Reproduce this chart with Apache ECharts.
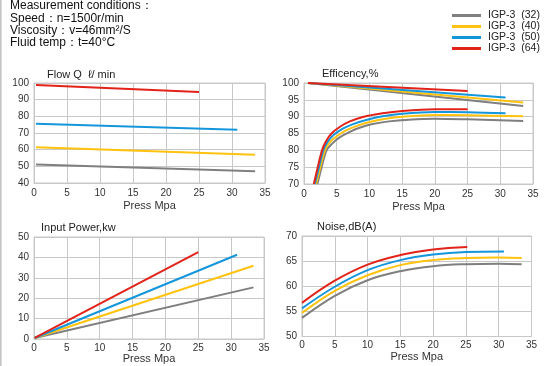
<!DOCTYPE html>
<html>
<head>
<meta charset="utf-8">
<script src="https://cdn.jsdelivr.net/npm/echarts@6/dist/echarts.min.js"></script>
<style>html,body{margin:0;padding:0;background:#fff;}#c{width:550px;height:366px;}</style>
</head>
<body>
<div id="c"></div>
<script>
// ---- data ----
var seriesNames = ['IGP-3  (32)', 'IGP-3  (40)', 'IGP-3  (50)', 'IGP-3  (64)'];
var seriesColors = ['#7f7f7f', '#ffc20e', '#1496dc', '#e2231a'];
var headerLines = ['Measurement conditions：', 'Speed：n=1500r/min', 'Viscosity：v=46mm²/S', 'Fluid temp：t=40°C'];
var chartTitles = ['Flow Q  ℓ/ min', 'Efficency,%', 'Input Power,kw', 'Noise,dB(A)'];
var xName = 'Press Mpa';

// Flow Q (l/min) vs pressure
var flow32 = [[0.3, 51.1], [33.5, 47.0]];
var flow40 = [[0.3, 61.4], [33.5, 56.9]];
var flow50 = [[0.3, 75.6], [30.8, 72.0]];
var flow64 = [[0.3, 98.8], [25, 94.6]];

// Volumetric efficiency (upper lines)
var volEff32 = [[0.6, 100], [33.5, 93.2]];
var volEff40 = [[0.6, 100], [33.5, 94.2]];
var volEff50 = [[0.6, 100], [30.8, 95.7]];
var volEff64 = [[0.6, 100], [25, 97.6]];

// Total efficiency (lower curves)
var totEff32 = [[2.05, 70], [2.7, 75], [3.45, 80], [4.3, 82], [5.5, 83.9], [7, 85.5], [8.5, 86.7], [10.5, 87.8], [13, 88.6], [16, 89.1], [20, 89.4], [25, 89.2], [33.5, 88.7]];
var totEff40 = [[1.85, 70], [2.5, 75], [3.2, 80], [3.9, 82.3], [5, 84.2], [6.5, 86], [8, 87.2], [10, 88.4], [12.5, 89.4], [15, 90.0], [20, 90.5], [25, 90.4], [33.5, 90.1]];
var totEff50 = [[1.65, 70], [2.3, 75], [2.95, 80], [3.6, 82.5], [4.6, 84.7], [6, 86.5], [7.5, 87.8], [9.5, 89], [12, 90.1], [15, 90.9], [20, 91.4], [25, 91.3], [30.8, 91.0]];
var totEff64 = [[1.5, 70], [2.1, 75], [2.75, 80], [3.3, 82.5], [4.2, 85], [5.5, 87], [7, 88.6], [9, 89.9], [12, 91], [15, 91.7], [20, 92.2], [25, 92.2]];

// Input power (kw)
var power32 = [[0.1, 0.5], [33.4, 25.3]];
var power40 = [[0.1, 0.5], [33.4, 35.9]];
var power50 = [[0.1, 0.5], [30.9, 41.3]];
var power64 = [[0.1, 0.5], [25, 42.6]];

// Noise dB(A)
var noise32 = [[0, 53.7], [5, 58.1], [10, 61.2], [15, 63.0], [20, 64.0], [25, 64.4], [30, 64.5], [33.5, 64.4]];
var noise40 = [[0, 54.7], [5, 59.1], [10, 62.2], [15, 64.2], [20, 65.2], [25, 65.6], [30, 65.7], [33.5, 65.6]];
var noise50 = [[0, 55.6], [5, 59.9], [10, 63.2], [15, 65.2], [20, 66.3], [25, 66.8], [30.8, 66.9]];
var noise64 = [[0, 56.7], [5, 61.1], [10, 64.3], [15, 66.2], [20, 67.3], [25.2, 67.8]];

// ---- build ----
var chart = echarts.init(document.getElementById('c'), null, {renderer: 'canvas'});
var gridLine = '#c8c8c8';
var labelColor = '#333';
var font = 'Liberation Sans, Arial, sans-serif';

var grids = [
  {left: 34, top: 83, width: 231, height: 100},
  {left: 304, top: 83, width: 229, height: 101},
  {left: 34, top: 237, width: 230, height: 102},
  {left: 302, top: 236, width: 229.5, height: 100.5}
];
grids.forEach(function (g) { g.show = true; g.borderColor = gridLine; g.borderWidth = 1; g.containLabel = false; });

var yRanges = [[40, 100, 10], [70, 100, 5], [0, 50, 10], [50, 70, 5]];
var nameGaps = [17, 17, 12, 15];
var labelMargins = [5, 5, 4, 4];

var xAxes = grids.map(function (g, i) {
  return {
    type: 'value', gridIndex: i, min: 0, max: 35, interval: 5,
    name: xName, nameLocation: 'middle', nameGap: nameGaps[i],
    nameTextStyle: {color: labelColor, fontSize: 11, fontFamily: font},
    axisLine: {lineStyle: {color: gridLine}}, axisTick: {show: false},
    axisLabel: {color: labelColor, fontSize: 10, fontFamily: font, margin: labelMargins[i]},
    splitLine: {show: true, lineStyle: {color: gridLine, width: 1}}
  };
});
var yAxes = grids.map(function (g, i) {
  return {
    type: 'value', gridIndex: i, min: yRanges[i][0], max: yRanges[i][1], interval: yRanges[i][2],
    axisLine: {show: true, lineStyle: {color: gridLine}}, axisTick: {show: false},
    axisLabel: {color: labelColor, fontSize: 10, fontFamily: font, margin: 5},
    splitLine: {show: true, lineStyle: {color: gridLine, width: 1}}
  };
});

var series = [];
function add(data, idx, gi, smooth) {
  series.push({
    type: 'line', name: seriesNames[idx], xAxisIndex: gi, yAxisIndex: gi,
    data: data, showSymbol: false, symbol: 'none', smooth: smooth || false,
    lineStyle: {color: seriesColors[idx], width: 2},
    itemStyle: {color: seriesColors[idx]}, animation: false, z: 3
  });
}
[flow32, flow40, flow50, flow64].forEach(function (d, k) { add(d, k, 0); });
[volEff32, volEff40, volEff50, volEff64].forEach(function (d, k) { add(d, k, 1); });
[totEff32, totEff40, totEff50, totEff64].forEach(function (d, k) { add(d, k, 1, 0.3); });
[power32, power40, power50, power64].forEach(function (d, k) { add(d, k, 2); });
[noise32, noise40, noise50, noise64].forEach(function (d, k) { add(d, k, 3, 0.4); });

var titlePos = [[47, 69], [322, 68], [41, 222], [317, 221]];
var titles = chartTitles.map(function (t, i) {
  return {text: t, left: titlePos[i][0], top: titlePos[i][1], padding: 0,
    textStyle: {fontSize: 11, fontWeight: 'normal', color: '#222', fontFamily: font}};
});

var graphics = [
  {type: 'line', shape: {x1: 0.8, y1: 0, x2: 0.8, y2: 366}, style: {stroke: '#c4c4c4', lineWidth: 1.6}}
];
headerLines.forEach(function (t, i) {
  graphics.push({type: 'text', left: 10, top: 0 + i * 12.3,
    style: {text: t, fontSize: 12, fontFamily: font, fill: '#111', fontWeight: 'normal'}});
});

chart.setOption({
  backgroundColor: '#fff',
  animation: false,
  title: titles,
  legend: {
    orient: 'vertical', left: 452, top: 10, itemWidth: 29, itemHeight: 3, itemGap: 0,
    icon: 'rect', data: seriesNames,
    textStyle: {fontSize: 10.5, color: '#222', fontFamily: font, lineHeight: 9, padding: [0, 0, 0, 2]},
    padding: 0
  },
  grid: grids,
  xAxis: xAxes,
  yAxis: yAxes,
  series: series,
  graphic: graphics
});
</script>
</body>
</html>
